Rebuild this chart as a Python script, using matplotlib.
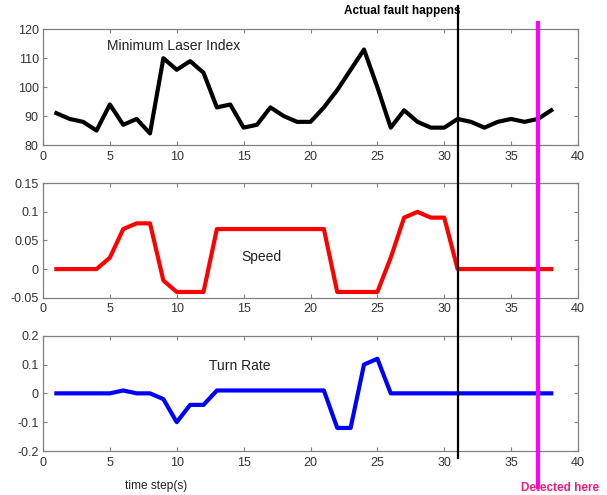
import matplotlib
matplotlib.use("Agg")
import matplotlib.pyplot as plt
import numpy as np
from matplotlib.lines import Line2D
from matplotlib.transforms import blended_transform_factory

plt.rcParams["font.family"] = ["Liberation Sans", "DejaVu Sans"]

# time steps 1..38
steps = list(range(1, 39))

laser_index = [91, 89, 88, 85, 94, 87, 89, 84, 110, 106,
               109, 105, 93, 94, 86, 87, 93, 90, 88, 88,
               93, 99, 106, 113, 100, 86, 92, 88, 86, 86,
               89, 88, 86, 88, 89, 88, 89, 92]

speed = [0, 0, 0, 0, 0.02, 0.07, 0.08, 0.08, -0.02, -0.04,
         -0.04, -0.04, 0.07, 0.07, 0.07, 0.07, 0.07, 0.07, 0.07, 0.07,
         0.07, -0.04, -0.04, -0.04, -0.04, 0.02, 0.09, 0.10, 0.09, 0.09,
         0, 0, 0, 0, 0, 0, 0, 0]

turn_rate = [0, 0, 0, 0, 0, 0.01, 0, 0, -0.02, -0.10,
             -0.04, -0.04, 0.01, 0.01, 0.01, 0.01, 0.01, 0.01, 0.01, 0.01,
             0.01, -0.12, -0.12, 0.10, 0.12, 0, 0, 0, 0, 0,
             0, 0, 0, 0, 0, 0, 0, 0]

fault_step = 31
detect_step = 37

x_ticks = [0, 5, 10, 15, 20, 25, 30, 35, 40]
laser_ticks = [80, 90, 100, 110, 120]
speed_ticks = [-0.05, 0, 0.05, 0.1, 0.15]
speed_labels = ["-0.05", "0", "0.05", "0.1", "0.15"]
turn_ticks = [-0.2, -0.1, 0, 0.1, 0.2]
turn_labels = ["-0.2", "-0.1", "0", "0.1", "0.2"]

W, H = 607, 495
fig = plt.figure(figsize=(W / 100, H / 100), dpi=100)

left, width = 43 / W, 535 / W
ax_laser = fig.add_axes([left, 1 - 145 / H, width, 115.7 / H])
ax_speed = fig.add_axes([left, 1 - 297.7 / H, width, 114.4 / H])
ax_turn = fig.add_axes([left, 1 - 451 / H, width, 115.3 / H])

spine_col = "#808080"
label_col = "#333333"

for ax in (ax_laser, ax_speed, ax_turn):
    ax.set_xlim(0, 40)
    ax.set_xticks(x_ticks)
    ax.tick_params(direction="in", top=True, right=True, length=3,
                   width=0.8, color=spine_col, labelcolor=label_col,
                   labelsize=9)
    ax.tick_params(axis="x", pad=4)
    ax.tick_params(axis="y", pad=3)
    for sp in ax.spines.values():
        sp.set_color(spine_col)
        sp.set_linewidth(0.9)

ax_laser.plot(steps, laser_index, color="black", lw=3)
ax_laser.set_ylim(80, 120)
ax_laser.set_yticks(laser_ticks)
ax_laser.text(4.76, 114.2, "Minimum Laser Index", fontsize=10,
              color="#222222", va="center", ha="left")

ax_speed.plot(steps, speed, color="#ff0000", lw=3)
ax_speed.set_ylim(-0.05, 0.15)
ax_speed.set_yticks(speed_ticks)
ax_speed.set_yticklabels(speed_labels)
ax_speed.text(16.33, 0.021, "Speed", fontsize=10, color="#222222",
              ha="center", va="center")

ax_turn.plot(steps, turn_rate, color="#0000ff", lw=3)
ax_turn.set_ylim(-0.2, 0.2)
ax_turn.set_yticks(turn_ticks)
ax_turn.set_yticklabels(turn_labels)
ax_turn.text(14.69, 0.096, "Turn Rate", fontsize=10, color="#222222",
             ha="center", va="center")

# vertical marker lines spanning the whole figure
trans = blended_transform_factory(ax_turn.transData, fig.transFigure)
fig.add_artist(Line2D([fault_step, fault_step], [1 - 6 / H, 1 - 458 / H],
                      transform=trans, color="black", lw=1.6))
fig.add_artist(Line2D([detect_step, detect_step], [1 - 23 / H, 1 - 487 / H],
                      transform=trans, color="#ff00ff", lw=3))

fig.text(402 / W, 1 - 11 / H, "Actual fault happens", fontsize=8.5,
         fontweight="bold", color="black", ha="center", va="center")
fig.text(560 / W, 1 - 488 / H, "Detected here", fontsize=8.5,
         fontweight="bold", color="#ee1c80", ha="center", va="center")
fig.text(156 / W, 1 - 486 / H, "time step(s)", fontsize=8.6,
         color="#222222", ha="center", va="center")

fig.savefig("out.png", dpi=100)
